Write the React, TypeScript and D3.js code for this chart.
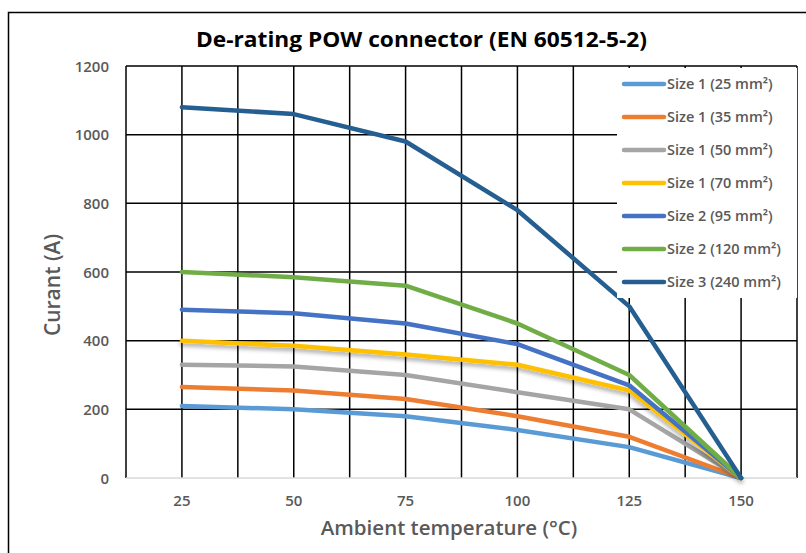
import * as d3 from 'd3';

const temps = [25, 50, 75, 100, 125, 150];
const seriesNames = [
  'Size 1 (25 mm²)',
  'Size 1 (35 mm²)',
  'Size 1 (50 mm²)',
  'Size 1 (70 mm²)',
  'Size 2 (95 mm²)',
  'Size 2 (120 mm²)',
  'Size 3 (240 mm²)',
];
const size1_25 = [210, 200, 180, 140, 90, 0];
const size1_35 = [265, 255, 230, 180, 120, 0];
const size1_50 = [330, 325, 300, 250, 200, 0];
const size1_70 = [400, 385, 360, 330, 255, 0];
const size2_95 = [490, 480, 450, 390, 270, 0];
const size2_120 = [600, 585, 560, 450, 300, 0];
const size3_240 = [1080, 1060, 980, 780, 500, 0];
const seriesValues = [size1_25, size1_35, size1_50, size1_70, size2_95, size2_120, size3_240];
const colors = ['#5B9BD5', '#ED7D31', '#A5A5A5', '#FFC000', '#4472C4', '#70AD47', '#255E91'];
const yTicks = [0, 200, 400, 600, 800, 1000, 1200];

const W = 806;
const H = 553;
const FONT = "'Open Sans', 'Noto Sans', sans-serif";
const GRAY = '#595959';

export default function App() {
  const x = d3.scaleLinear().domain([12.5, 162.5]).range([126, 797]);
  const y = d3.scaleLinear().domain([0, 1200]).range([478, 66]);
  const vLines = d3.range(12.5, 162.6, 12.5);

  const line = d3
    .line<number>()
    .x((_, i) => x(temps[i]))
    .y((d) => y(d));

  const legend = { x: 617, y: 68, w: 180, h: 230, row: 33 };

  return (
    <svg
      width={W}
      height={H}
      style={{ position: 'absolute', left: 0, top: 0, background: '#fff' }}
      fontFamily={FONT}
    >
      <defs>
        <filter id="shadow" x="-5%" y="-20%" width="110%" height="160%">
          <feDropShadow dx="0" dy="3" stdDeviation="2" floodColor="#000" floodOpacity="0.35" />
        </filter>
      </defs>
      <rect x={8.5} y={12.5} width={820} height={560} fill="#fff" stroke="#000" strokeWidth={1.5} />

      <text
        x={421.5}
        y={47}
        textAnchor="middle"
        fontSize={21}
        fontWeight={700}
        fill="#000"
        textLength={451}
        lengthAdjust="spacingAndGlyphs"
      >
        De-rating POW connector (EN 60512-5-2)
      </text>

      {/* gridlines */}
      {yTicks.slice(1).map((t) => (
        <line key={'h' + t} x1={126} x2={797} y1={y(t)} y2={y(t)} stroke="#000" strokeWidth={1.5} />
      ))}
      {vLines.map((v) => (
        <line key={'v' + v} x1={x(v)} x2={x(v)} y1={66} y2={478} stroke="#000" strokeWidth={1.5} />
      ))}
      <line x1={126} x2={797} y1={y(0)} y2={y(0)} stroke="#d9d9d9" strokeWidth={1.5} />

      {/* y ticks */}
      {yTicks.map((t) => (
        <text key={'yt' + t} x={109} y={y(t) + 5.5} textAnchor="end" fontSize={15} fontWeight={600} fill={GRAY}>
          {t}
        </text>
      ))}
      {/* x ticks */}
      {temps.map((t) => (
        <text key={'xt' + t} x={x(t)} y={505.5} textAnchor="middle" fontSize={15} fontWeight={600} fill={GRAY}>
          {t}
        </text>
      ))}

      {/* series */}
      {seriesValues.map((vals, i) => (
        <path
          key={'s' + i}
          d={line(vals) || ''}
          fill="none"
          stroke={colors[i]}
          strokeWidth={4.5}
          strokeLinejoin="round"
          strokeLinecap="round"
          filter={i === 3 ? 'url(#shadow)' : undefined}
        />
      ))}

      {/* legend */}
      <rect x={legend.x} y={legend.y} width={legend.w} height={legend.h} fill="#fff" />
      {seriesNames.map((name, i) => {
        const cy = 84 + i * legend.row;
        return (
          <g key={'lg' + i}>
            <line x1={624} x2={664} y1={cy} y2={cy} stroke={colors[i]} strokeWidth={4.5} strokeLinecap="round" />
            <text x={667} y={cy + 5} fontSize={14.5} fontWeight={600} fill={GRAY}>
              {name}
            </text>
          </g>
        );
      })}

      {/* axis titles */}
      <text x={449} y={535} textAnchor="middle" fontSize={20.5} fontWeight={600} fill={GRAY}>
        Ambient temperature (°C)
      </text>
      <text
        transform="translate(60,285) rotate(-90)"
        textAnchor="middle"
        fontSize={21}
        fontWeight={600}
        fill={GRAY}
      >
        Curant (A)
      </text>
    </svg>
  );
}
